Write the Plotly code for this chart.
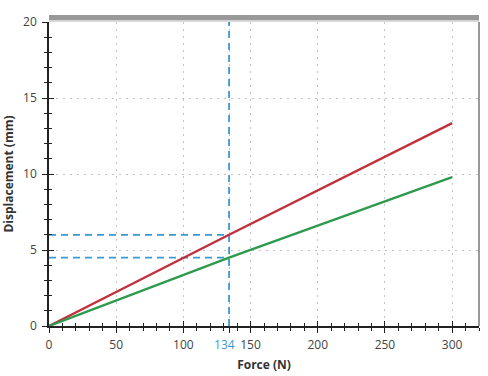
import plotly.graph_objects as go

force = [0, 134, 300]
disp_red = [0, 6.0, 13.35]
disp_green = [0, 4.5, 9.8]
marker_force = 134
marker_red = 6.0
marker_green = 4.5
x_ticks = [0, 50, 100, 134, 150, 200, 250, 300]
x_ticklabels = ["0", "50", "100", "<span style='color:#3a9ad0'>134</span>&nbsp;&nbsp;&nbsp;", "150", "200", "250", "300"]
y_ticks = [0, 5, 10, 15, 20]

blue = "#3a9ad0"
fig = go.Figure()

dash = "7px,5px"
fig.add_trace(go.Scatter(x=[marker_force, marker_force], y=[0, 20], mode="lines",
                         line=dict(color=blue, width=1.8, dash=dash), hoverinfo="skip"))
fig.add_trace(go.Scatter(x=[0, marker_force], y=[marker_red, marker_red], mode="lines",
                         line=dict(color=blue, width=1.8, dash=dash), hoverinfo="skip"))
fig.add_trace(go.Scatter(x=[0, marker_force], y=[marker_green, marker_green], mode="lines",
                         line=dict(color=blue, width=1.8, dash=dash), hoverinfo="skip"))

fig.add_trace(go.Scatter(x=force, y=disp_red, mode="lines", line=dict(color="#c22f3d", width=2.4)))
fig.add_trace(go.Scatter(x=force, y=disp_green, mode="lines", line=dict(color="#2e9a4e", width=2.4)))

grid_dash = "2px,5px"
font = dict(family="Open Sans, Noto Sans, sans-serif", size=12, color="#444")
fig.update_layout(
    width=488, height=376,
    margin=dict(l=49, r=9, t=22, b=50),
    plot_bgcolor="white", paper_bgcolor="white",
    showlegend=False, font=font,
    xaxis=dict(range=[0, 320], tickvals=x_ticks, ticktext=x_ticklabels, automargin=False, tickangle=0,
               showgrid=True, gridcolor="#c4c4c4", griddash=grid_dash, gridwidth=1,
               showline=True, linecolor="#222", linewidth=1.5,
               ticks="outside", ticklen=5, tickcolor="#222", tickwidth=1.2,
               minor=dict(dtick=10, ticks="outside", ticklen=3, tickcolor="#222", showgrid=False),
               zeroline=False, ticklabelstandoff=2,
               title=dict(text="<b>Force (N)</b>", font=dict(size=12, color="#333"), standoff=8)),
    yaxis=dict(range=[0, 20], tickvals=y_ticks, automargin=False,
               showgrid=True, gridcolor="#c4c4c4", griddash=grid_dash, gridwidth=1,
               showline=True, linecolor="#222", linewidth=1.5,
               ticks="outside", ticklen=5, tickcolor="#222", tickwidth=1.2,
               minor=dict(dtick=1, ticks="outside", ticklen=3, tickcolor="#222", showgrid=False),
               zeroline=False, ticklabelstandoff=3,
               title=dict(text="<b>Displacement (mm)</b>", font=dict(size=12, color="#333"), standoff=10)),
    xaxis2=dict(overlaying="x", range=[0, 320], showticklabels=False, showgrid=False, automargin=False,
                ticks="inside", tickvals=[0, 50, 100, 150, 200, 250, 300], ticklen=5, tickcolor="#222", tickwidth=1.2,
                minor=dict(dtick=10, ticks="inside", ticklen=3, tickcolor="#222"),
                zeroline=False, side="bottom", anchor="y"),
    yaxis2=dict(overlaying="y", range=[0, 20], showticklabels=False, showgrid=False, automargin=False,
                ticks="inside", tickvals=y_ticks, ticklen=5, tickcolor="#222", tickwidth=1.2,
                minor=dict(dtick=1, ticks="inside", ticklen=3, tickcolor="#222"),
                zeroline=False, side="left", anchor="x"),
    shapes=[
        dict(type="rect", xref="paper", yref="paper", x0=0, x1=1, y0=1.006, y1=1.023,
             fillcolor="#999999", line=dict(width=0), layer="above"),
        dict(type="line", xref="paper", yref="paper", x0=0, x1=1, y0=1.003, y1=1.003,
             line=dict(color="#cccccc", width=1.5), layer="above"),
        dict(type="line", xref="paper", yref="paper", x0=1, x1=1, y0=0, y1=1,
             line=dict(color="#777777", width=1.5), layer="above"),
    ],
)
fig.add_trace(go.Scatter(x=[None], y=[None], xaxis="x2", yaxis="y2", hoverinfo="skip"))

fig.write_html("out.html", config={"displayModeBar": False},
               post_script="document.body.style.margin='0';document.body.style.overflow='hidden';")
